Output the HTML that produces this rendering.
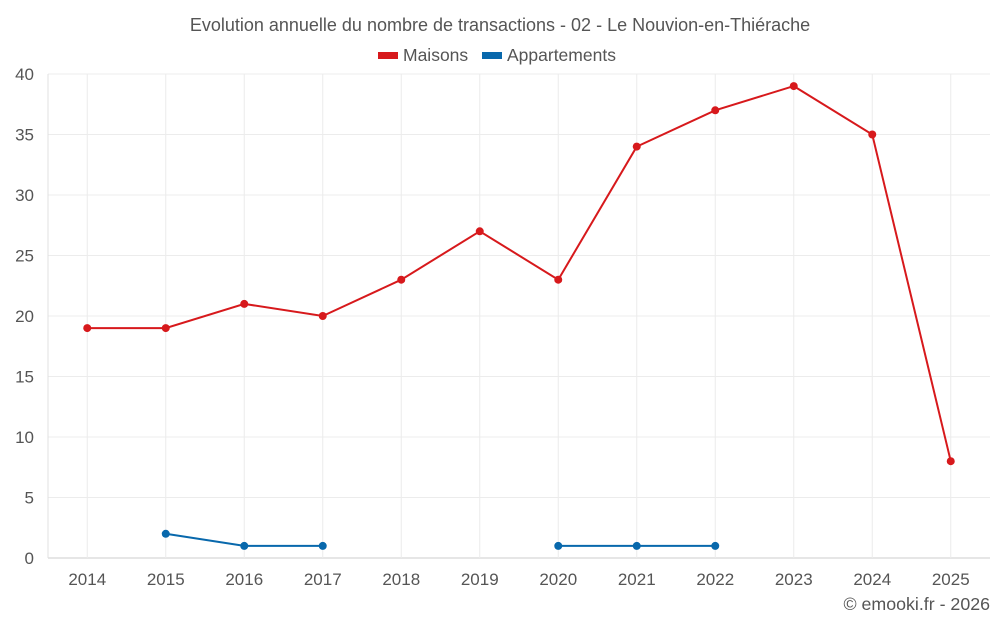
<!DOCTYPE html>
<html><head><meta charset="utf-8"><style>
body{margin:0;background:#fff;width:1000px;height:625px;overflow:hidden;font-family:"Liberation Sans",sans-serif}
text{font-family:"Liberation Sans",sans-serif}
</style></head><body>
<svg id="chart" width="1000" height="625" xmlns="http://www.w3.org/2000/svg">
<text x="500" y="31" text-anchor="middle" font-size="18" fill="#555">Evolution annuelle du nombre de transactions - 02 - Le Nouvion-en-Thiérache</text>
<g><rect x="378" y="52" width="20" height="7" fill="#d7191c"/><text x="403" y="61" font-size="17.5" fill="#555">Maisons</text></g>
<g><rect x="482" y="52" width="20" height="7" fill="#0868ac"/><text x="507" y="61" font-size="17.5" fill="#555">Appartements</text></g>
<g id="grid"></g><g id="axes"></g><g id="series"></g>
<text x="990" y="610" text-anchor="end" font-size="17.8" fill="#555">© emooki.fr - 2026</text>
</svg>
<script>
const years=[2014,2015,2016,2017,2018,2019,2020,2021,2022,2023,2024,2025];
const maisons=[19,19,21,20,23,27,23,34,37,39,35,8];
const appartements=[null,2,1,1,null,null,1,1,1,null,null,null];
const yTicks=[0,5,10,15,20,25,30,35,40];
const NS="http://www.w3.org/2000/svg";
const L=48,R=990,T=74,B=558,yMax=40;
const step=(R-L)/years.length;
const xs=i=>L+step*(i+0.5);
const ys=v=>B-(v/yMax)*(B-T);
function mk(tag,attrs,parent){const e=document.createElementNS(NS,tag);for(const k in attrs)e.setAttribute(k,attrs[k]);document.getElementById(parent).appendChild(e);return e;}
yTicks.forEach(t=>{
 const g=mk('line',{x1:L,x2:R,y1:ys(t),y2:ys(t),stroke:t===0?'#ccc':'#ececec','stroke-width':1},'grid');
 
 
 const tx=mk('text',{x:34,y:ys(t)+6,'text-anchor':'end','font-size':17,fill:'#555'},'axes');
 tx.textContent=t;
 
 
});
years.forEach((y,i)=>{
 const g=mk('line',{x1:xs(i),x2:xs(i),y1:T,y2:B,stroke:'#ececec','stroke-width':1},'grid');
 
 
 const tx=mk('text',{x:xs(i),y:585,'text-anchor':'middle','font-size':17,fill:'#555'},'axes');
 tx.textContent=y;
 
 
});
const ax=mk('line',{x1:L,x2:L,y1:T,y2:B,stroke:'#e0e0e0'},'axes');


function draw(vals,color,name){
 let segs=[],cur=[];
 vals.forEach((v,i)=>{if(v==null){if(cur.length)segs.push(cur);cur=[];}else cur.push([xs(i),ys(v)]);});
 if(cur.length)segs.push(cur);
 segs.forEach(s=>{
  const p=mk('polyline',{points:s.map(q=>q.join(',')).join(' '),fill:'none',stroke:color,'stroke-width':2},'series');
  
  
 });
 vals.forEach((v,i)=>{if(v==null)return;
  const c=mk('circle',{cx:xs(i),cy:ys(v),r:4,fill:color},'series');
  
  
 });
}
draw(maisons,'#d7191c','maisons');
draw(appartements,'#0868ac','appartements');
</script>
</body></html>
